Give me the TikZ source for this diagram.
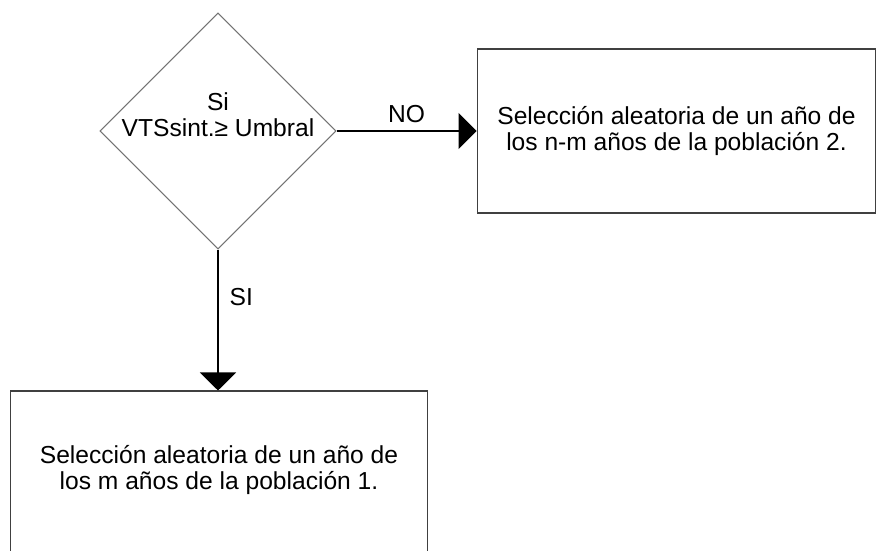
\documentclass[tikz,border=0pt]{standalone}
\usepackage{fontspec}
\setmainfont{Liberation Sans}
\usetikzlibrary{shapes.geometric,arrows.meta}

\begin{document}
\begin{tikzpicture}[x=0.02cm,y=-0.02cm,line width=0.6pt,
        cond/.style={diamond,draw=black!55,minimum width=4.72cm,minimum height=4.72cm,inner sep=0pt},
        block/.style={rectangle,draw=black!75},
        txt/.style={align=center,font=\fontsize{14}{14.6}\selectfont},
        arrow/.style={-{Triangle[length=0.36cm,width=0.72cm]}},
        ]
        \useasboundingbox (0,0) rectangle (880,551);

        % Decision
        \node[cond] (cond) at (218,131) {};
        \node[txt] (condtxt) at (218,115) {Si\\VTSsint.≥ Umbral};

        % Selection boxes
        \node[block,txt,minimum width=7.98cm,minimum height=3.28cm] (pob2) at (676.5,131)
            {Selección aleatoria de un año de\\los n-m años de la población 2.};
        \node[block,minimum width=8.36cm,minimum height=3.38cm] (pob1) at (219,475.5) {};
        \node[txt] (pob1txt) at (219,470)
            {Selección aleatoria de un año de\\los m años de la población 1.};

        % Connections
        \draw[arrow] (cond.east) -- node[txt,above=1pt] (no) {NO} (pob2.west);
        \draw[arrow] (cond.south) -- node[txt,pos=0.34,right=3pt] (si) {SI} (cond.south |- pob1.north);
    \end{tikzpicture}
\end{document}
